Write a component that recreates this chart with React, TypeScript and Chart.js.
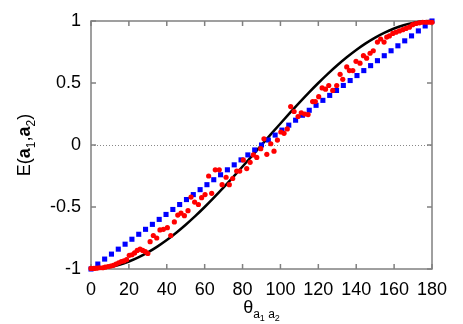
import React, { useEffect, useRef } from "react";
import { Chart, registerables } from "chart.js";

Chart.register(...registerables);

// Theory curve E = -cos(theta), tabulated every 5 degrees
const curveTheta = [0, 5, 10, 15, 20, 25, 30, 35, 40, 45, 50, 55, 60, 65, 70, 75, 80, 85, 90, 95, 100, 105, 110, 115, 120, 125, 130, 135, 140, 145, 150, 155, 160, 165, 170, 175, 180];
const curveE = [-1, -0.9962, -0.9848, -0.9659, -0.9397, -0.9063, -0.866, -0.8192, -0.766, -0.7071, -0.6428, -0.5736, -0.5, -0.4226, -0.342, -0.2588, -0.1736, -0.0872, 0, 0.0872, 0.1736, 0.2588, 0.342, 0.4226, 0.5, 0.5736, 0.6428, 0.7071, 0.766, 0.8192, 0.866, 0.9063, 0.9397, 0.9659, 0.9848, 0.9962, 1];

// Blue squares
const blueTheta = [0, 3.6, 7.2, 10.8, 14.4, 18, 21.6, 25.2, 28.8, 32.4, 36, 39.6, 43.2, 46.8, 50.4, 54, 57.6, 61.2, 64.8, 68.4, 72, 75.6, 79.2, 82.8, 86.4, 90, 93.6, 97.2, 100.8, 104.4, 108, 111.6, 115.2, 118.8, 122.4, 126, 129.6, 133.2, 136.8, 140.4, 144, 147.6, 151.2, 154.8, 158.4, 162, 165.6, 169.2, 172.8, 176.4, 180];
const blueE = [-1, -0.96, -0.92, -0.88, -0.84, -0.8, -0.76, -0.72, -0.68, -0.64, -0.6, -0.56, -0.52, -0.48, -0.44, -0.4, -0.36, -0.32, -0.28, -0.24, -0.2, -0.16, -0.12, -0.08, -0.04, 0, 0.04, 0.08, 0.12, 0.16, 0.2, 0.24, 0.28, 0.32, 0.36, 0.4, 0.44, 0.48, 0.52, 0.56, 0.6, 0.64, 0.68, 0.72, 0.76, 0.8, 0.84, 0.88, 0.92, 0.96, 1];

// Red dots
const redTheta = [0, 1.6, 3, 4.4, 6.2, 7.5, 9, 10.4, 11.8, 13.2, 14.6, 16, 17.4, 18.8, 20.2, 21.6, 23, 24.4, 25.9, 27.3, 28.7, 30, 31.2, 32.9, 34.7, 36.4, 38.2, 40.3, 42.1, 44, 45.8, 47.5, 49.3, 51.2, 52.8, 54.7, 56.7, 58.4, 60.2, 62.1, 63.7, 65.6, 67.7, 69.2, 71.3, 73, 74.8, 76.9, 78.5, 80.4, 82.2, 84, 85.7, 87.5, 89.6, 91.3, 92.8, 94.9, 96.6, 98.4, 100.2, 101.9, 103.6, 105.4, 107.2, 109.3, 111, 112.8, 114.6, 117, 118.4, 120.2, 122, 123.8, 125.5, 127.6, 129.7, 131.5, 132.9, 135, 136.4, 138.2, 139.9, 142, 143.8, 145.5, 147.3, 149, 151.2, 152.9, 154.7, 156.1, 157.5, 159.3, 161, 162.8, 164.6, 166.3, 168.1, 169.8, 171.6, 173.4, 175.1, 176.9, 178.6, 180];
const redE = [-0.995, -0.995, -0.993, -0.99, -0.99, -0.985, -0.98, -0.976, -0.97, -0.96, -0.95, -0.94, -0.935, -0.925, -0.89, -0.885, -0.87, -0.85, -0.84, -0.85, -0.86, -0.875, -0.78, -0.73, -0.75, -0.685, -0.68, -0.667, -0.73, -0.62, -0.565, -0.55, -0.57, -0.53, -0.42, -0.46, -0.48, -0.425, -0.4, -0.25, -0.39, -0.2, -0.2, -0.32, -0.26, -0.32, -0.27, -0.21, -0.21, -0.12, -0.19, -0.14, -0.08, -0.1, -0.03, 0.05, -0.075, 0.01, -0.05, 0.04, 0.105, 0.094, 0.13, 0.31, 0.27, 0.23, 0.26, 0.25, 0.245, 0.35, 0.35, 0.39, 0.46, 0.45, 0.48, 0.44, 0.48, 0.57, 0.53, 0.63, 0.6, 0.6, 0.675, 0.66, 0.72, 0.7, 0.74, 0.76, 0.83, 0.855, 0.83, 0.87, 0.88, 0.9, 0.91, 0.92, 0.93, 0.94, 0.95, 0.97, 0.98, 0.985, 0.99, 0.99, 0.99, 0.99];

const xTickValues = [0, 20, 40, 60, 80, 100, 120, 140, 160, 180];
const yTickValues = [-1, -0.5, 0, 0.5, 1];

const FONT = "'Liberation Sans', Arial, Helvetica, sans-serif";

const framePlugin = {
  id: "framePlugin",
  beforeDatasetsDraw(chart: any) {
    const { ctx, chartArea, scales } = chart;
    const { left, right, top, bottom } = chartArea;
    ctx.save();
    const y0 = scales.y.getPixelForValue(0);
    ctx.strokeStyle = "#888";
    ctx.lineWidth = 1;
    ctx.setLineDash([1, 2]);
    ctx.beginPath();
    ctx.moveTo(left, Math.round(y0) + 0.5);
    ctx.lineTo(right, Math.round(y0) + 0.5);
    ctx.stroke();
    ctx.setLineDash([]);
    ctx.strokeStyle = "#808080";
    ctx.lineWidth = 1.5;
    ctx.strokeRect(left, top, right - left, bottom - top);
    const tl = 5;
    ctx.beginPath();
    for (const v of xTickValues) {
      const x = scales.x.getPixelForValue(v);
      ctx.moveTo(x, bottom);
      ctx.lineTo(x, bottom - tl);
      ctx.moveTo(x, top);
      ctx.lineTo(x, top + tl);
    }
    for (const v of yTickValues) {
      const y = scales.y.getPixelForValue(v);
      ctx.moveTo(left, y);
      ctx.lineTo(left + tl, y);
      ctx.moveTo(right, y);
      ctx.lineTo(right - tl, y);
    }
    ctx.stroke();
    ctx.restore();
  },
  afterDraw(chart: any) {
    const { ctx, chartArea } = chart;
    ctx.save();
    ctx.fillStyle = "#000";
    ctx.textBaseline = "alphabetic";
    ctx.textAlign = "left";
    const parts: [string, string, number][] = [
      ["\u03b8", `18px ${FONT}`, 0],
      ["a", `12px ${FONT}`, 5],
      ["1", `9px ${FONT}`, 8],
      [" ", `12px ${FONT}`, 5],
      ["a", `12px ${FONT}`, 5],
      ["2", `9px ${FONT}`, 8],
    ];
    let total = 0;
    for (const [t, f] of parts) {
      ctx.font = f;
      total += ctx.measureText(t).width;
    }
    let x = (chartArea.left + chartArea.right) / 2 - total / 2;
    const base = 313;
    for (const [t, f, dy] of parts) {
      ctx.font = f;
      ctx.fillText(t, x, base + dy);
      x += ctx.measureText(t).width;
    }
    const yparts: [string, string, number][] = [
      ["E(", `18px ${FONT}`, 0],
      ["a", `bold 18px ${FONT}`, 0],
      ["1", `12px ${FONT}`, 5],
      [",", `18px ${FONT}`, 0],
      ["a", `bold 18px ${FONT}`, 0],
      ["2", `12px ${FONT}`, 5],
      [")", `18px ${FONT}`, 0],
    ];
    let ytotal = 0;
    for (const [t, f] of yparts) {
      ctx.font = f;
      ytotal += ctx.measureText(t).width;
    }
    ctx.translate(30, (chartArea.top + chartArea.bottom) / 2);
    ctx.rotate(-Math.PI / 2);
    let yx = -ytotal / 2;
    for (const [t, f, dy] of yparts) {
      ctx.font = f;
      ctx.fillText(t, yx, dy);
      yx += ctx.measureText(t).width;
    }
    ctx.restore();
  },
};

export default function App() {
  const ref = useRef<HTMLCanvasElement | null>(null);
  useEffect(() => {
    document.body.style.margin = "0";
    const canvas = ref.current;
    if (!canvas) return;
    const red = redTheta.map((t, i) => ({ x: t, y: redE[i] }));
    const blue = blueTheta.map((t, i) => ({ x: t, y: blueE[i] }));
    const curve = curveTheta.map((t, i) => ({ x: t, y: curveE[i] }));
    const chart = new Chart(canvas, {
      type: "scatter",
      data: {
        datasets: [
          {
            label: "red",
            data: red,
            pointStyle: "circle",
            pointRadius: 2.6,
            pointBackgroundColor: "#ff0000",
            pointBorderWidth: 0,
            backgroundColor: "#ff0000",
            borderColor: "#ff0000",
            clip: false as any,
            order: 1,
          },
          {
            label: "blue",
            data: blue,
            pointStyle: "rect",
            pointRadius: 3.6,
            pointBackgroundColor: "#0000ff",
            pointBorderWidth: 0,
            backgroundColor: "#0000ff",
            borderColor: "#0000ff",
            clip: false as any,
            order: 2,
          },
          {
            label: "curve",
            data: curve,
            showLine: true,
            pointRadius: 0,
            borderColor: "#000000",
            borderWidth: 2.5,
            cubicInterpolationMode: "monotone",
            clip: false as any,
            order: 3,
          } as any,
        ],
      },
      options: {
        responsive: false,
        animation: false,
        devicePixelRatio: 1,
        layout: { padding: { top: 21, right: 31, left: 0, bottom: 0 } },
        plugins: { legend: { display: false }, tooltip: { enabled: false } },
        scales: {
          x: {
            type: "linear",
            min: 0,
            max: 180,
            grid: { display: false, drawTicks: false },
            border: { display: false },
            ticks: {
              stepSize: 20,
              padding: 10,
              color: "#000",
              font: { family: FONT, size: 18 },
              maxRotation: 0,
            },
            afterFit(scale: any) {
              scale.height = 55;
            },
          },
          y: {
            type: "linear",
            min: -1,
            max: 1,
            grid: { display: false, drawTicks: false },
            border: { display: false },
            ticks: {
              stepSize: 0.5,
              padding: 10,
              color: "#000",
              font: { family: FONT, size: 18 },
              callback: (v: any) => String(Number(v)),
            },
            afterFit(scale: any) {
              scale.width = 91;
            },
          },
        },
      },
      plugins: [framePlugin],
    });
    return () => chart.destroy();
  }, []);
  return (
    <div style={{ width: 463, height: 324, position: "absolute", left: 0, top: 0 }}>
      <canvas ref={ref} width={463} height={324} />
    </div>
  );
}
